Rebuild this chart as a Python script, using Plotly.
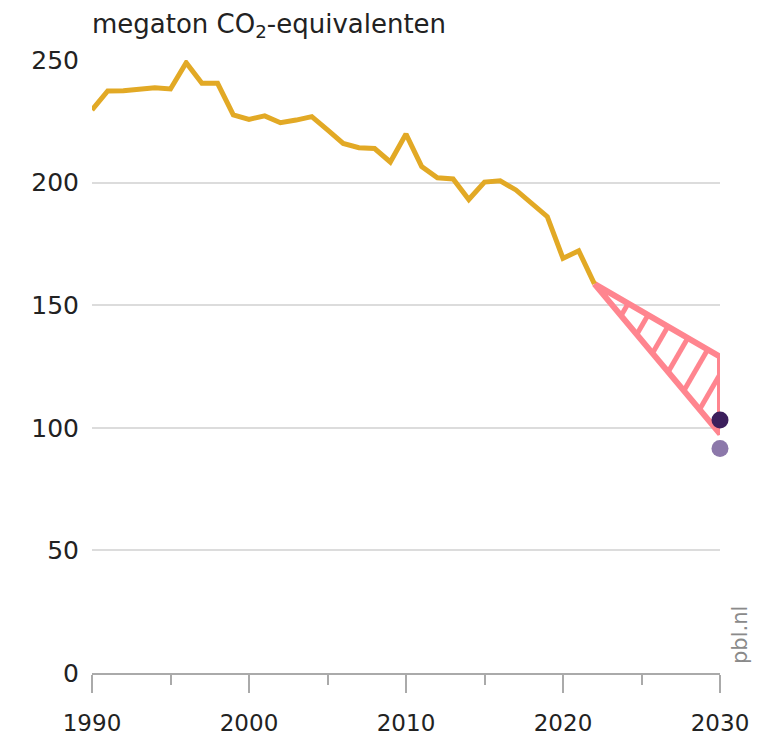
import plotly.graph_objects as go

years = list(range(1990, 2023))
emissions = [229.6, 237.4, 237.5, 238.0, 238.7, 238.2, 248.9, 240.5, 240.5, 227.6,
             225.8, 227.2, 224.4, 225.5, 226.9, 221.5, 216.0, 214.2, 213.9, 208.4,
             219.8, 206.5, 202.0, 201.5, 193.1, 200.2, 200.7, 197.0, 191.5, 186.1,
             169.1, 172.2, 158.7]

# projection range 2030 (triangle: start 2022, upper and lower bound 2030)
range_years = [2022, 2030, 2030, 2022]
range_values = [158.7, 129.0, 97.5, 158.7]

target_year = [2030]
target_dark = [103.2]
target_light = [91.6]

GOLD = "#e2a925"
PINK = "#ff858f"
DARK = "#3c1f5c"
LIGHT = "#8c78aa"
FONT = "DejaVu Sans"

W, H = 766, 731
ML, MR, MT, MB = 84, 54, 52, 66
X0, X1 = 1990, 2030
Y0, Y1 = 0, 250
sx = (W - ML - MR) / (X1 - X0)   # px per year
sy = (H - MT - MB) / (Y1 - Y0)   # px per unit


def hatch_lines(xs, ys, spacing=23.0, first=39.0):
    """Parallel hatch lines perpendicular to the upper edge, clipped to the triangle."""
    A = (xs[0] * sx, ys[0] * sy)
    B = (xs[1] * sx, ys[1] * sy)
    C = (xs[2] * sx, ys[2] * sy)
    dx, dy = B[0] - A[0], B[1] - A[1]
    n = (dx * dx + dy * dy) ** 0.5
    u = (dx / n, dy / n)
    proj = lambda P: (P[0] - A[0]) * u[0] + (P[1] - A[1]) * u[1]
    verts = [A, B, C]
    tp = [proj(P) for P in verts]
    hx, hy = [], []
    t = first
    while t < max(tp):
        pts = []
        for i in range(3):
            P, Q = verts[i], verts[(i + 1) % 3]
            ta, tb = tp[i], tp[(i + 1) % 3]
            if (ta - t) * (tb - t) < 0:
                f = (t - ta) / (tb - ta)
                pts.append((P[0] + f * (Q[0] - P[0]), P[1] + f * (Q[1] - P[1])))
        if len(pts) == 2:
            for P in pts:
                hx.append(P[0] / sx)
                hy.append(P[1] / sy)
            hx.append(None)
            hy.append(None)
        t += spacing
    return hx, hy


hx, hy = hatch_lines(range_years, range_values)

fig = go.Figure()

fig.add_trace(go.Scatter(
    x=hx, y=hy, mode="lines", line=dict(color=PINK, width=5),
    hoverinfo="skip", showlegend=False, cliponaxis=False))

fig.add_trace(go.Scatter(
    x=range_years, y=range_values, mode="lines",
    line=dict(color=PINK, width=6),
    hoverinfo="skip", showlegend=False, cliponaxis=False))

fig.add_trace(go.Scatter(
    x=years, y=emissions, mode="lines",
    line=dict(color=GOLD, width=5), showlegend=False, cliponaxis=False))

fig.add_trace(go.Scatter(
    x=target_year, y=target_light, mode="markers",
    marker=dict(color=LIGHT, size=17), showlegend=False, cliponaxis=False))
fig.add_trace(go.Scatter(
    x=target_year, y=target_dark, mode="markers",
    marker=dict(color=DARK, size=17), showlegend=False, cliponaxis=False))

fig.update_layout(
    width=W, height=H,
    margin=dict(l=ML, r=MR, t=MT, b=MB, autoexpand=False),
    paper_bgcolor="white", plot_bgcolor="white",
    font=dict(family=FONT, size=24, color="#222"),
    xaxis=dict(range=[X0, X1], tickmode="array", automargin=False,
               tickvals=[1990, 2000, 2010, 2020, 2030],
               ticks="outside", ticklen=18, tickwidth=1.5, tickcolor="#aaaaaa",
               minor=dict(tickvals=[1995, 2005, 2015, 2025], ticks="outside",
                          ticklen=10, tickwidth=1.5, tickcolor="#aaaaaa"),
               showgrid=False, zeroline=False, showline=True,
               linecolor="#aaaaaa", linewidth=2, ticklabelstandoff=10,
               tickfont=dict(size=23)),
    yaxis=dict(range=[Y0, Y1], tickvals=[0, 50, 100, 150, 200, 250],
               automargin=False,
               showgrid=True, gridcolor="#dcdcdc", gridwidth=2,
               zeroline=False, showline=False, ticks="",
               ticklabelstandoff=12, tickfont=dict(size=25)),
    annotations=[
        dict(text="megaton CO<sub>2</sub>-equivalenten", xref="paper", yref="paper",
             x=0, y=1, xanchor="left", yanchor="bottom", yshift=16, xshift=-2,
             showarrow=False, font=dict(size=26, color="#222")),
        dict(text="pbl.nl", xref="paper", yref="paper", x=1, y=0,
             xanchor="left", yanchor="bottom", xshift=6, yshift=7,
             textangle=-90, showarrow=False, font=dict(size=21, color="#8a8a8a")),
    ],
)

fig.write_html("out.html")
